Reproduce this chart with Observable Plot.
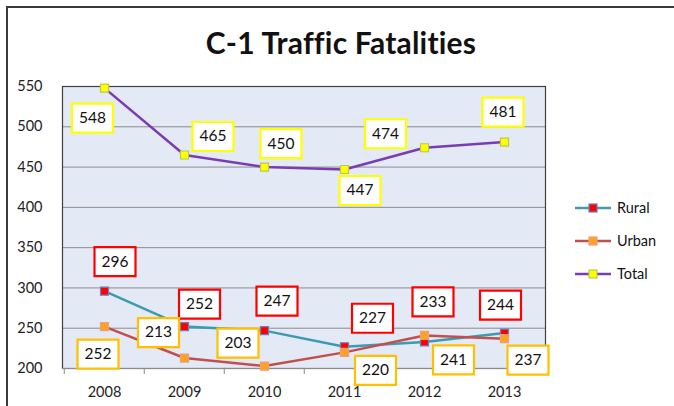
<!DOCTYPE html>
<html>
<head>
<meta charset="utf-8">
<script src="https://cdn.jsdelivr.net/npm/d3@7"></script>
<script src="https://cdn.jsdelivr.net/npm/@observablehq/plot@0.6"></script>
<style>
  html, body { margin: 0; padding: 0; background: #fff; }
  #wrap { position: relative; width: 674px; height: 406px; overflow: hidden; font-family: Lato, "Open Sans", sans-serif; }
  #border { position: absolute; left: 6px; top: 6px; width: 720px; height: 440px; border: 2px solid #3a3a3a; box-sizing: border-box; }
  #chart { position: absolute; left: 0; top: 0; }
  #title { position: absolute; left: 0; width: 682px; top: 24px; text-align: center; font-size: 30px; font-weight: bold; color: #111; letter-spacing: 0.2px; }
  #legend { position: absolute; left: 574px; top: 191px; font-size: 14.5px; color: #111; }
  .li { display: flex; align-items: center; height: 33px; }
  .li svg { margin-right: 5px; }
</style>
</head>
<body>
<div id="wrap">
  <div id="border"></div>
  <div id="chart"></div>
  <div id="title">C-1 Traffic Fatalities</div>
  <div id="legend"></div>
</div>
<script>
// ---- data ----
const years = [2008, 2009, 2010, 2011, 2012, 2013];
const rural = [296, 252, 247, 227, 233, 244];
const urban = [252, 213, 203, 220, 241, 237];
const total = [548, 465, 450, 447, 474, 481];
const seriesNames = ["Rural", "Urban", "Total"];
const yTicks = [200, 250, 300, 350, 400, 450, 500, 550];

// ---- styling config ----
const lineColors = {Rural: "#3d9bb0", Urban: "#c0504d", Total: "#7a3cb0"};
const markerFill = {Rural: "#ff0000", Urban: "#ffa21f", Total: "#ffff00"};
const markerStroke = {Rural: "#6c7fc0", Urban: "#e8a080", Total: "#b5cc4a"};
const boxColors = {Rural: "#ff0000", Urban: "#ffc000", Total: "#ffff00"};
// label offsets (px) relative to the data point
const labelOffsets = {
  Total: [[-12, 30], [28.5, -18.5], [16.5, -23.5], [15.5, 21], [-39, -14], [-1.5, -30]],
  Rural: [[10.5, -29.5], [15, -22.5], [12.5, -29.5], [28, -28.5], [8.5, -40], [-4, -28]],
  Urban: [[-6.5, 27.5], [-26, -25.5], [-26.5, -23], [31, 18], [29, 24.5], [23.5, 21.5]]
};

const valuesBy = {Rural: rural, Urban: urban, Total: total};
const rows = [];
for (const s of seriesNames) years.forEach((y, i) => rows.push({series: s, year: y, value: valuesBy[s][i], i}));

const W = 674, H = 406, mL = 62, mR = 129, mT = 86, mB = 38;
const step = (W - mL - mR) / years.length;

const markerSym = {draw(ctx) { ctx.rect(-4, -4, 8, 8); }};
const boxSym = {draw(ctx) { ctx.rect(-20.5, -14.5, 41, 29); }};

const marks = [
  Plot.frame({fill: "#e3e9f5", stroke: null}),
  Plot.gridY(yTicks, {stroke: "#8c8c8c", strokeOpacity: 1, strokeWidth: 1}),
  Plot.frame({stroke: "#404040", strokeWidth: 1.2}),
  Plot.ruleY([200], {stroke: "#8c8c8c"}),
  Plot.axisY(yTicks, {tickSize: 0, tickPadding: 20, fontSize: 14.5, fill: "#222", label: null}),
  Plot.axisX(years, {tickSize: 0, tickPadding: 18, fontSize: 14.5, fill: "#222", label: null, tickFormat: d => String(d)}),
  Plot.axisX(years, {tickSize: 6, dx: -step / 2, stroke: "#8c8c8c", label: null, tickFormat: () => ""}),
  Plot.axisX([years[years.length - 1]], {tickSize: 6, dx: step / 2, stroke: "#8c8c8c", label: null, tickFormat: () => ""})
];
for (const s of seriesNames) {
  const d = rows.filter(r => r.series === s);
  marks.push(Plot.line(d, {x: "year", y: "value", stroke: lineColors[s], strokeWidth: 2.5}));
}
for (const s of seriesNames) {
  const d = rows.filter(r => r.series === s);
  marks.push(Plot.dot(d, {x: "year", y: "value", symbol: markerSym, r: 4, fill: markerFill[s], stroke: markerStroke[s], strokeWidth: 1.2}));
}
for (const s of seriesNames) {
  rows.filter(r => r.series === s).forEach(r => {
    const [dx, dy] = labelOffsets[s][r.i];
    marks.push(Plot.dot([r], {x: "year", y: "value", symbol: boxSym, r: 4, fill: "white", stroke: boxColors[s], strokeWidth: 2.2, dx, dy}));
    marks.push(Plot.text([r], {x: "year", y: "value", text: d => String(d.value), dx, dy, fontSize: 15.5, fill: "#111"}));
  });
}

const chart = Plot.plot({
  width: W, height: H,
  marginLeft: mL, marginRight: mR, marginTop: mT, marginBottom: mB,
  style: {fontFamily: "Lato, 'Open Sans', sans-serif", background: "transparent"},
  x: {type: "point", domain: years, padding: 0.5, label: null},
  y: {domain: [200, 550], label: null},
  marks
});
document.getElementById("chart").appendChild(chart);

// legend
const leg = document.getElementById("legend");
for (const s of seriesNames) {
  const div = document.createElement("div");
  div.className = "li";
  div.innerHTML = `<svg width="38" height="12"><line x1="1" y1="6" x2="37" y2="6" stroke="${lineColors[s]}" stroke-width="2.5"/><rect x="15" y="2" width="8" height="8" fill="${markerFill[s]}" stroke="${markerStroke[s]}" stroke-width="1.2"/></svg><span>${s}</span>`;
  leg.appendChild(div);
}
</script>
</body>
</html>
